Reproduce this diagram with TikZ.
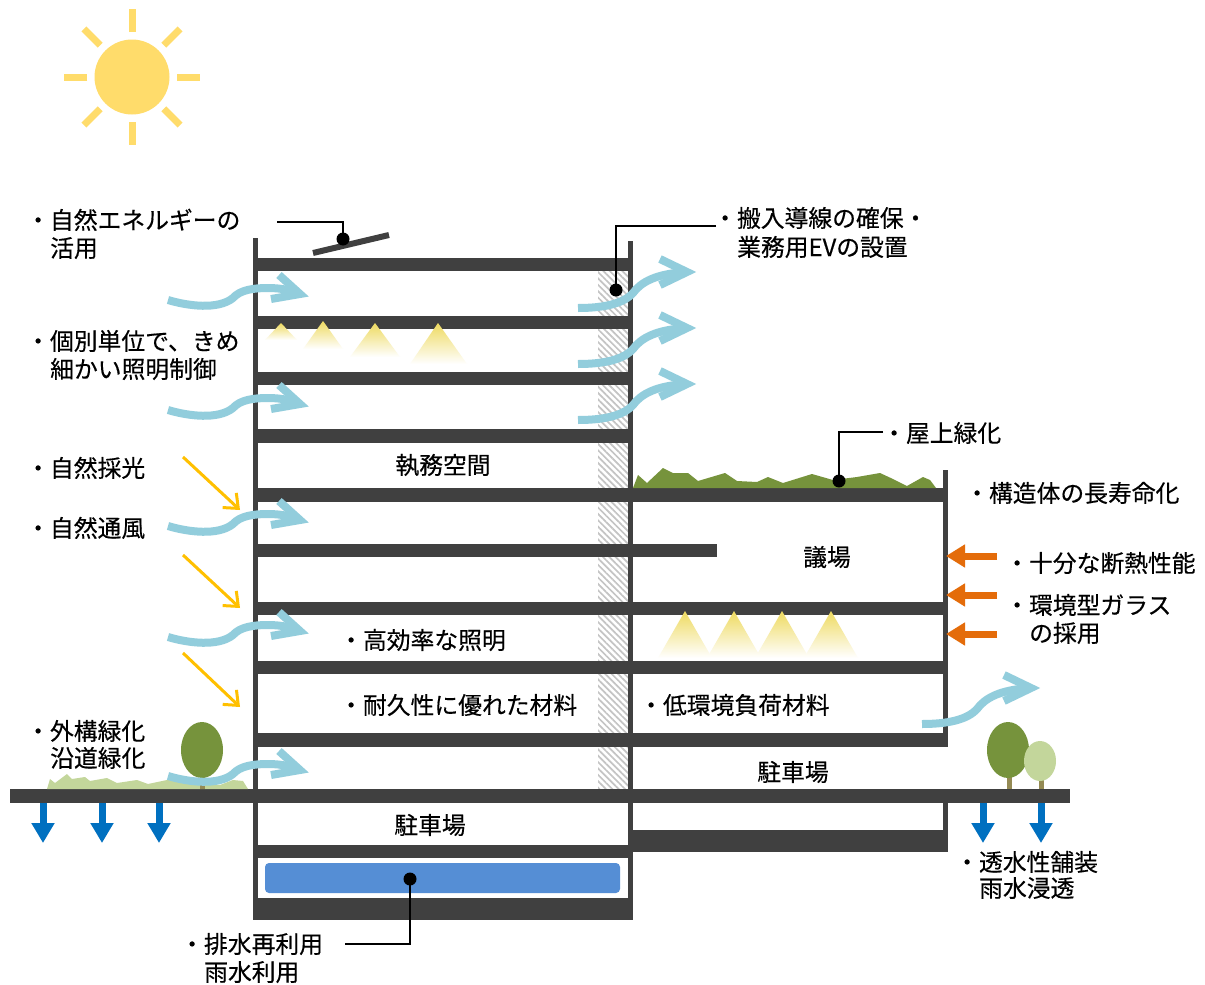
\documentclass[tikz,border=0pt]{standalone}
\usepackage{fontspec}
\setmainfont{Noto Sans CJK JP}[FakeBold=0.35]
\usetikzlibrary{arrows.meta,patterns.meta}
\definecolor{slabgray}{HTML}{404040}
\definecolor{windblue}{HTML}{92CDDC}
\definecolor{sunyellow}{HTML}{FFDC6B}
\definecolor{rayorange}{HTML}{FFC000}
\definecolor{heatorange}{HTML}{E46C0A}
\definecolor{rainblue}{HTML}{0070C0}
\definecolor{tankblue}{HTML}{558ED5}
\definecolor{roofgreen}{HTML}{76933C}
\definecolor{lightgreen}{HTML}{C3D69B}
\definecolor{trunkbrown}{HTML}{948A54}
\definecolor{coneyellow}{HTML}{EEDA60}
\definecolor{hatchgray}{HTML}{C4C4C4}
\newcommand\lblfont{\fontsize{23.8}{28}\selectfont}

\tikzset{
  % breeze entering the building: gentle S-curve with an open chevron head
  windin/.pic={
    \draw[wind] (0,0) .. controls (20,6) and (50,10) .. (65,-2)
      .. controls (72,-10) and (85,-12) .. (100,-12)
      .. controls (115,-12) and (125,-9) .. (130,-6);
    \draw[wind,line join=miter] (111,-25) -- (132,-6) -- (103,-1);
  },
  % breeze leaving the building: rising curve with an open chevron head
  windout/.pic={
    \draw[wind] (0,0) .. controls (25,0) and (45,-4) .. (55,-15)
      .. controls (63,-26) and (78,-34) .. (107,-36);
    \draw[wind,line join=miter] (82,-49) -- (109,-36) -- (82,-23);
  },
}

\begin{document}
\begin{tikzpicture}[x=1pt,y=-1pt,
  slab/.style={fill=slabgray},
  wind/.style={draw=windblue,line width=8pt},
  lbl/.style={font=\lblfont,inner sep=0pt,anchor=base west},
  ctr/.style={font=\lblfont,inner sep=0pt,anchor=base},
  leader/.style={draw=black,line width=1.6pt},
  dot/.style={circle,fill=black,inner sep=0pt,minimum size=13pt},
  heat/.style={draw=heatorange,line width=7pt,-{Triangle[length=19pt,width=22pt]}},
  rain/.style={draw=rainblue,line width=7pt,-{Triangle[length=20pt,width=22pt]}},
  sunray/.style={draw=rayorange,line width=3pt,-{Straight Barb[length=12pt,width=20pt]}},
  cone/.style={top color=coneyellow,middle color=coneyellow!75,bottom color=white,draw=none},
  sunbeam/.style={draw=sunyellow,line width=7pt},
  trunk/.style={draw=trunkbrown,line width=5pt},
]
\fill[white] (0,0) rectangle (1205,985);
\useasboundingbox (0,0) rectangle (1205,985);

% ---- sun ----
\fill[sunyellow] (132,77) circle[radius=37.5pt];
\foreach \a in {0,45,...,315}
  \draw[sunbeam] (132,77) ++(\a:45pt) -- ++(\a:23pt);

% ---- vertical service shaft ----
\fill[pattern={Lines[angle=-45,distance=4.5pt,line width=1.7pt]},pattern color=hatchgray]
  (598,271) rectangle (629,789);

% ---- walls ----
\fill[slab] (253,238) rectangle (258,920);
\fill[slab] (628,241) rectangle (633,920);
\fill[slab] (943,470) rectangle (948,747);
\fill[slab] (943,803) rectangle (948,852);

% ---- floor slabs ----
\fill[slab] (253,258) rectangle (633,271);
\fill[slab] (253,316) rectangle (633,329);
\fill[slab] (253,372) rectangle (633,385);
\fill[slab] (253,429) rectangle (633,443);
\fill[slab] (253,488) rectangle (948,502);
\fill[slab] (253,544) rectangle (717,557);
\fill[slab] (253,602) rectangle (948,615);
\fill[slab] (253,661) rectangle (948,674);
\fill[slab] (253,733) rectangle (948,747);
\fill[slab] (10,789) rectangle (1070,803);
\fill[slab] (253,845) rectangle (633,858);
\fill[slab] (253,898) rectangle (633,920);
\fill[slab] (633,830) rectangle (948,852);

% ---- rainwater tank ----
\fill[tankblue,rounded corners=4pt] (265,863) rectangle (620,893);

% ---- solar panel ----
\draw[slabgray,line width=6pt] (313,253) -- (389,235);

% ---- lighting cones ----
\shade[cone] (281,323) -- (297,340) -- (265,340) -- cycle;
\shade[cone] (323,321) -- (343,349) -- (303,349) -- cycle;
\shade[cone] (375,323) -- (400,357) -- (350,357) -- cycle;
\shade[cone] (438,323) -- (467,364) -- (410,364) -- cycle;
\foreach \cx in {685,734,782,831}
  \shade[cone] (\cx,611) -- (\cx+27,658) -- (\cx-27,658) -- cycle;

% ---- greenery ----
\fill[roofgreen] (633,488) -- (638,475) -- (647,483) -- (663,468) -- (673,473)
  -- (688,473) -- (698,481) -- (725,473) -- (737,481) -- (757,482) -- (768,477)
  -- (783,483) -- (812,474) -- (833,480) -- (857,477) -- (880,473) -- (893,479)
  -- (907,486) -- (923,477) -- (930,480) -- (936,488) -- cycle;
\fill[lightgreen] (47,789) -- (50,779) -- (55,783) -- (67,774) -- (72,779)
  -- (85,777) -- (90,781) -- (107,778) -- (117,783) -- (137,780) -- (148,784)
  -- (167,780) -- (193,782) -- (220,785) -- (233,780) -- (243,781) -- (248,789) -- cycle;
\draw[trunk] (202,772) -- (202,789);
\fill[roofgreen] (202,750) ellipse[x radius=21pt,y radius=28pt];
\draw[trunk] (1009,772) -- (1009,789);
\fill[roofgreen] (1008,750) ellipse[x radius=21pt,y radius=28pt];
\draw[trunk] (1041,778) -- (1041,789);
\fill[lightgreen] (1040,761) ellipse[x radius=16pt,y radius=20pt];

% ---- natural ventilation ----
\foreach \yy in {300,410,526,637,776}
  \pic at (168,\yy) {windin};
\foreach \yy in {308,364,420}
  \pic at (578,\yy) {windout};
\pic at (922,724) {windout};

% ---- daylight ----
\coordinate (rayA0) at (183,457); \coordinate (rayA1) at (240,510);
\coordinate (rayB0) at (183,555); \coordinate (rayB1) at (240,608);
\coordinate (rayC0) at (183,653); \coordinate (rayC1) at (240,707);
\draw[sunray] (rayA0) -- (rayA1);
\draw[sunray] (rayB0) -- (rayB1);
\draw[sunray] (rayC0) -- (rayC1);

% ---- insulation / glazing ----
\coordinate (heatA0) at (997,556); \coordinate (heatA1) at (946,556);
\coordinate (heatB0) at (997,595); \coordinate (heatB1) at (946,595);
\coordinate (heatC0) at (997,634); \coordinate (heatC1) at (946,634);
\draw[heat] (heatA0) -- (heatA1);
\draw[heat] (heatB0) -- (heatB1);
\draw[heat] (heatC0) -- (heatC1);

% ---- permeable paving ----
\foreach \nm/\xx in {rainA/43,rainB/102,rainC/159,rainD/983,rainE/1041}{
  \coordinate (\nm0) at (\xx,803);
  \coordinate (\nm1) at (\xx,843);
  \draw[rain] (\nm0) -- (\nm1);
}

% ---- leader lines ----
\coordinate (solarEnd) at (277,222);
\node[dot] (solarDot) at (343,239) {};
\draw[leader] (solarEnd) -| (solarDot.center);
\coordinate (evEnd) at (716,226);
\node[dot] (evDot) at (616,290) {};
\draw[leader] (evEnd) -| (evDot.center);
\coordinate (roofEnd) at (883,432);
\node[dot] (roofDot) at (839,481) {};
\draw[leader] (roofEnd) -| (roofDot.center);
\coordinate (tankEnd) at (345,944);
\node[dot] (tankDot) at (410,879) {};
\draw[leader] (tankEnd) -| (tankDot.center);

% ---- labels ----
\node[lbl] (energyA) at (26,229) {・自然エネルギーの};
\node[lbl] (energyB) at (50,257) {活用};
\node[lbl] (lightA) at (26,350) {・個別単位で、きめ};
\node[lbl] (lightB) at (50,378) {細かい照明制御};
\node[lbl] (daylight) at (26,477) {・自然採光};
\node[lbl] (breeze) at (26,537) {・自然通風};
\node[lbl] (greenA) at (26,740) {・外構緑化};
\node[lbl] (greenB) at (50,767) {沿道緑化};
\node[lbl] (waterA) at (180,953) {・排水再利用};
\node[lbl] (waterB) at (204,981) {雨水利用};
\node[lbl] (evA) at (713,227) {・搬入導線の確保・};
\node[lbl] (evB) at (737,256) {業務用EVの設置};
\node[lbl] (roofgreen) at (882,442) {・屋上緑化};
\node[lbl] (structure) at (965,502) {・構造体の長寿命化};
\node[lbl] (insul) at (1005,572) {・十分な断熱性能};
\node[lbl] (glassA) at (1005,614) {・環境型ガラス};
\node[lbl] (glassB) at (1029,642) {の採用};
\node[lbl] (paveA) at (955,871) {・透水性舗装};
\node[lbl] (paveB) at (979,897) {雨水浸透};
\node[lbl] (hieff) at (339,649) {・高効率な照明};
\node[lbl] (durable) at (339,714) {・耐久性に優れた材料};
\node[lbl] (lowimpact) at (639,714) {・低環境負荷材料};
\node[ctr] (office) at (443,474) {執務空間};
\node[ctr] (chamber) at (827,566) {議場};
\node[ctr] (parkR) at (793,781) {駐車場};
\node[ctr] (parkL) at (430,834) {駐車場};
\end{tikzpicture}
\end{document}
